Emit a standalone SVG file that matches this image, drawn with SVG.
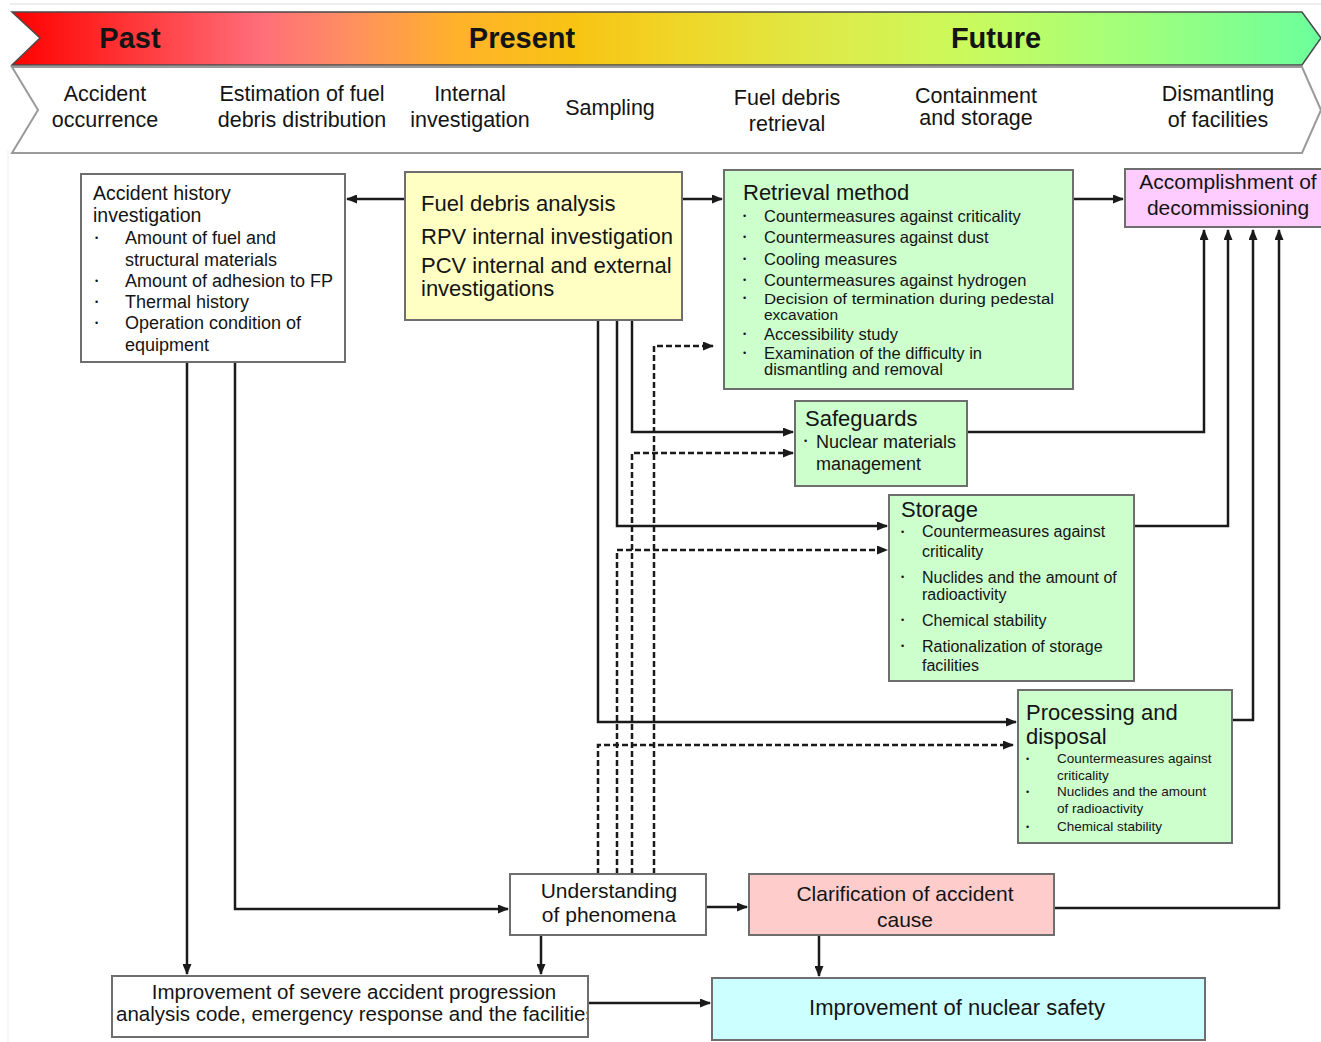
<svg xmlns="http://www.w3.org/2000/svg" width="1321" height="1042" viewBox="0 0 1321 1042">
<defs>
<linearGradient id="band" x1="0" y1="0" x2="1" y2="0">
<stop offset="0" stop-color="#ff0000"/>
<stop offset="0.07" stop-color="#ff2a2a"/>
<stop offset="0.19" stop-color="#ff6e7a"/>
<stop offset="0.26" stop-color="#ff9060"/>
<stop offset="0.34" stop-color="#ffb22a"/>
<stop offset="0.43" stop-color="#f8c414"/>
<stop offset="0.52" stop-color="#eed82a"/>
<stop offset="0.63" stop-color="#dcec4a"/>
<stop offset="0.73" stop-color="#cafa5c"/>
<stop offset="0.84" stop-color="#a6ff78"/>
<stop offset="1" stop-color="#6cff9c"/>
</linearGradient>
<marker id="ah" markerUnits="userSpaceOnUse" markerWidth="11" markerHeight="9" refX="10" refY="4.5" orient="auto">
<path d="M0,0 L11,4.5 L0,9 z" fill="#1a1a1a"/>
</marker>
<clipPath id="clipImp"><rect x="113" y="977" width="474" height="59"/></clipPath>
<style>
text{font-family:"Liberation Sans",Arial,sans-serif;fill:#141414}
.hd{font-weight:bold;font-size:29px;text-anchor:middle}
.st{font-size:21.5px;text-anchor:middle}
.box{stroke:#6e6e6e;stroke-width:2}
.ln{fill:none;stroke:#1a1a1a;stroke-width:2.5}
.ds{fill:none;stroke:#1a1a1a;stroke-width:2.5;stroke-dasharray:6 3}
.b{font-size:9px}
.t22{font-size:22px}
.c{text-anchor:middle}
</style>
</defs>
<rect width="1321" height="1042" fill="#ffffff"/>
<line x1="10" y1="4" x2="1321" y2="4" stroke="#dddddd" stroke-width="1"/>
<line x1="8" y1="150" x2="8" y2="1042" stroke="#eeeeee" stroke-width="1"/>

<g id="timeline">
<polygon points="12,12 1302,12 1321,38 1302,65 12,65 40,38" fill="url(#band)" stroke="#4a4a4a" stroke-width="1.5"/>
<text class="hd" x="130" y="48">Past</text>
<text class="hd" x="522" y="48">Present</text>
<text class="hd" x="996" y="48">Future</text>
<polygon points="12,67 1302,67 1321,110 1302,153 12,153 38,110" fill="#ffffff" stroke="#9a9a9a" stroke-width="2"/>
<text class="st" x="105" y="101">Accident</text>
<text class="st" x="105" y="127">occurrence</text>
<text class="st" x="302" y="101">Estimation of fuel</text>
<text class="st" x="302" y="127">debris distribution</text>
<text class="st" x="470" y="101">Internal</text>
<text class="st" x="470" y="127">investigation</text>
<text class="st" x="610" y="115">Sampling</text>
<text class="st" x="787" y="105">Fuel debris</text>
<text class="st" x="787" y="131">retrieval</text>
<text class="st" x="976" y="103">Containment</text>
<text class="st" x="976" y="125">and storage</text>
<text class="st" x="1218" y="101">Dismantling</text>
<text class="st" x="1218" y="127">of facilities</text>
</g>

<g id="connectors">
<path class="ln" d="M405,199 H347" marker-end="url(#ah)"/>
<path class="ln" d="M682,199 H722" marker-end="url(#ah)"/>
<path class="ln" d="M1073,199 H1123" marker-end="url(#ah)"/>
<path class="ln" d="M632,320 V432 H793" marker-end="url(#ah)"/>
<path class="ln" d="M617,320 V526 H887" marker-end="url(#ah)"/>
<path class="ln" d="M598,320 V722 H1016" marker-end="url(#ah)"/>
<path class="ln" d="M967,432 H1204 V230" marker-end="url(#ah)"/>
<path class="ln" d="M1134,526 H1228 V230" marker-end="url(#ah)"/>
<path class="ln" d="M1232,720 H1253 V230" marker-end="url(#ah)"/>
<path class="ln" d="M1054,908 H1279 V230" marker-end="url(#ah)"/>
<path class="ln" d="M187,362 V974" marker-end="url(#ah)"/>
<path class="ln" d="M235,362 V909 H508" marker-end="url(#ah)"/>
<path class="ln" d="M706,907 H747" marker-end="url(#ah)"/>
<path class="ln" d="M541,935 V974" marker-end="url(#ah)"/>
<path class="ln" d="M819,935 V976" marker-end="url(#ah)"/>
<path class="ln" d="M588,1003 H710" marker-end="url(#ah)"/>
<path class="ds" d="M654,874 V346 H713" marker-end="url(#ah)"/>
<path class="ds" d="M632,874 V453 H793" marker-end="url(#ah)"/>
<path class="ds" d="M617,874 V550 H887" marker-end="url(#ah)"/>
<path class="ds" d="M598,874 V745 H1013" marker-end="url(#ah)"/>
</g>

<g id="accident-history">
<rect class="box" x="81" y="174" width="264" height="188" fill="#ffffff"/>
<text x="93" y="200" style="font-size:19.5px">Accident history</text>
<text x="93" y="222" style="font-size:19.5px">investigation</text>
<g style="font-size:18px">
<text class="b" x="95" y="241">•</text><text x="125" y="244">Amount of fuel and</text>
<text x="125" y="266">structural materials</text>
<text class="b" x="95" y="284">•</text><text x="125" y="287">Amount of adhesion to FP</text>
<text class="b" x="95" y="305">•</text><text x="125" y="308">Thermal history</text>
<text class="b" x="95" y="326">•</text><text x="125" y="329">Operation condition of</text>
<text x="125" y="351">equipment</text>
</g>
</g>

<g id="fuel-debris-analysis">
<rect class="box" x="405" y="172" width="277" height="148" fill="#ffffc4"/>
<text class="t22" x="421" y="211">Fuel debris analysis</text>
<text class="t22" x="421" y="244">RPV internal investigation</text>
<text class="t22" x="421" y="273">PCV internal and external</text>
<text class="t22" x="421" y="296">investigations</text>
</g>

<g id="retrieval-method">
<rect class="box" x="724" y="170" width="349" height="219" fill="#ccffcc"/>
<text class="t22" x="743" y="200">Retrieval method</text>
<g style="font-size:16.5px">
<text class="b" x="743" y="219">•</text><text x="764" y="222">Countermeasures against criticality</text>
<text class="b" x="743" y="240">•</text><text x="764" y="243">Countermeasures against dust</text>
<text class="b" x="743" y="262">•</text><text x="764" y="265">Cooling measures</text>
<text class="b" x="743" y="283">•</text><text x="764" y="286">Countermeasures against hydrogen</text>
<text class="b" x="743" y="301">•</text><text x="764" y="304" style="font-size:15.5px" textLength="290" lengthAdjust="spacingAndGlyphs">Decision of termination during pedestal</text>
<text x="764" y="320" style="font-size:15.5px">excavation</text>
<text class="b" x="743" y="337">•</text><text x="764" y="340">Accessibility study</text>
<text class="b" x="743" y="356">•</text><text x="764" y="359">Examination of the difficulty in</text>
<text x="764" y="375">dismantling and removal</text>
</g>
</g>

<g id="accomplishment">
<rect class="box" x="1125" y="169" width="200" height="58" fill="#ffccff"/>
<text class="c" x="1228" y="189" style="font-size:21px">Accomplishment of</text>
<text class="c" x="1228" y="215" style="font-size:21px">decommissioning</text>
</g>

<g id="safeguards">
<rect class="box" x="795" y="401" width="172" height="85" fill="#ccffcc"/>
<text class="t22" x="805" y="426">Safeguards</text>
<text class="b" x="804" y="444">•</text><text x="816" y="448" style="font-size:18px">Nuclear materials</text>
<text x="816" y="470" style="font-size:18px">management</text>
</g>

<g id="storage">
<rect class="box" x="889" y="495" width="245" height="186" fill="#ccffcc"/>
<text class="t22" x="901" y="517">Storage</text>
<g style="font-size:16px">
<text class="b" x="901" y="535">•</text><text x="922" y="537">Countermeasures  against</text>
<text x="922" y="557">criticality</text>
<text class="b" x="901" y="580">•</text><text x="922" y="583">Nuclides and the amount of</text>
<text x="922" y="600">radioactivity</text>
<text class="b" x="901" y="623">•</text><text x="922" y="626">Chemical stability</text>
<text class="b" x="901" y="649">•</text><text x="922" y="652">Rationalization of storage</text>
<text x="922" y="671">facilities</text>
</g>
</g>

<g id="processing">
<rect class="box" x="1018" y="690" width="214" height="153" fill="#ccffcc"/>
<text class="t22" x="1026" y="720">Processing and</text>
<text class="t22" x="1026" y="744">disposal</text>
<g style="font-size:13.5px">
<text class="b" x="1026" y="762">•</text><text x="1057" y="763">Countermeasures against</text>
<text x="1057" y="780">criticality</text>
<text class="b" x="1026" y="795">•</text><text x="1057" y="796">Nuclides and the amount</text>
<text x="1057" y="813">of radioactivity</text>
<text class="b" x="1026" y="830">•</text><text x="1057" y="831">Chemical stability</text>
</g>
</g>

<g id="understanding">
<rect class="box" x="510" y="874" width="196" height="61" fill="#ffffff"/>
<text class="c" x="609" y="898" style="font-size:21px">Understanding</text>
<text class="c" x="609" y="922" style="font-size:21px">of phenomena</text>
</g>

<g id="clarification">
<rect class="box" x="749" y="874" width="305" height="61" fill="#ffcccc"/>
<text class="c" x="905" y="901" style="font-size:21px">Clarification of accident</text>
<text class="c" x="905" y="927" style="font-size:21px">cause</text>
</g>

<g id="improvement-severe">
<rect class="box" x="112" y="976" width="476" height="61" fill="#ffffff"/>
<g clip-path="url(#clipImp)" style="font-size:20.5px">
<text class="c" x="354" y="999">Improvement of severe accident progression</text>
<text x="116" y="1021">analysis code, emergency response and the facilities</text>
</g>
</g>

<g id="improvement-safety">
<rect class="box" x="712" y="978" width="493" height="62" fill="#ccffff"/>
<text class="c" x="957" y="1015" style="font-size:22px">Improvement of nuclear safety</text>
</g>
</svg>
